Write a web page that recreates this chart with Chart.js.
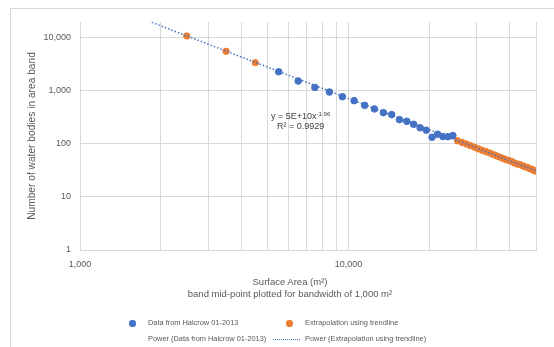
<!DOCTYPE html>
<html>
<head>
<meta charset="utf-8">
<script src="https://cdn.jsdelivr.net/npm/chart.js@4.4.1/dist/chart.umd.min.js"></script>
<style>
    html, body { margin: 0; padding: 0; background: #fff; }
    #wrap { position: relative; width: 554px; height: 347px; overflow: hidden; font-family: 'Liberation Sans', Arial, sans-serif; }
    #frame { position: absolute; left: 10px; top: 8px; width: 560px; height: 360px; border: 1px solid #d9d9d9; box-sizing: border-box; }
    #chartBox { position: absolute; left: 0; top: 0; width: 554px; height: 347px; }
    .txt { position: absolute; color: #595959; white-space: nowrap; }
    #eq { left: 271px; top: 111px; font-size: 9px; color: #404040; text-align: center; line-height: 10px; }
    #eq sup { font-size: 6px; vertical-align: 3px; line-height: 0; }
    #xt1 { left: 0; width: 580px; top: 276px; text-align: center; font-size: 9.5px; }
    #xt2 { left: 0; width: 580px; top: 288px; text-align: center; font-size: 9.5px; }
    .leg { font-size: 7.4px; }
    .dot { position: absolute; width: 6.5px; height: 6.5px; border-radius: 50%; }
    .dash { position: absolute; width: 27px; height: 0; border-top: 1.5px dotted #4472c4; }
</style>
</head>
<body>
<div id="wrap">
    <div id="frame"></div>
    <div id="chartBox"><canvas id="waterChart" width="554" height="347"></canvas></div>
    <div class="txt" id="eq">y = 5E+10x<sup>-1.96</sup><br>R² = 0.9929</div>
    <div class="txt" id="xt1">Surface Area (m²)</div>
    <div class="txt" id="xt2">band mid-point plotted for bandwidth of 1,000 m²</div>
    <div class="dot" style="left:129px; top:320px; background:#4472c4"></div>
    <div class="txt leg" style="left:148px; top:318px">Data from Halcrow 01-2013</div>
    <div class="dot" style="left:286px; top:320px; background:#ed7d31"></div>
    <div class="txt leg" style="left:305px; top:318px">Extrapolation using trendline</div>
    <div class="txt leg" style="left:148px; top:334px">Power (Data from Halcrow 01-2013)</div>
    <div class="dash" style="left:273px; top:339px"></div>
    <div class="txt leg" style="left:305px; top:334px">Power (Extrapolation using trendline)</div>
</div>
<script>
    // band mid-points (m2) and counts
    var halcrowArea = [5500, 6500, 7500, 8500, 9500, 10500, 11500, 12500, 13500, 14500,
        15500, 16500, 17500, 18500, 19500, 20500, 21500, 22500, 23500, 24500];
    var halcrowCount = [2300, 1540, 1166, 955, 780, 656, 535, 458, 390, 358,
        288, 268, 235, 202, 182, 134, 153, 138, 137, 144];

    var extrapArea = [2500, 3500, 4500,
        25500, 26500, 27500, 28500, 29500, 30500, 31500, 32500, 33500, 34500,
        35500, 36500, 37500, 38500, 39500, 40500, 41500, 42500, 43500, 44500,
        45500, 46500, 47500, 48500, 49500];
    var extrapCount = [10900, 5600, 3420,
        115, 107, 100, 93, 87, 81, 76, 72, 68, 64,
        60, 57, 54, 51, 49, 47, 44, 42, 41, 39,
        37, 36, 34, 33, 31];

    // ends of the dotted power trendline
    var trendArea = [1800, 50000];
    var trendCount = [20800, 31];

    var xTickValues = [1000, 2000, 3000, 4000, 5000, 6000, 7000, 8000, 9000,
        10000, 20000, 30000, 40000, 50000];
    var xLabelled = [1000, 10000];
    var yTickValues = [1, 10, 100, 1000, 10000];

    function toPoints(xs, ys) {
        var pts = [];
        for (let i = 0; i < xs.length; i++)
            pts.push({ x: xs[i], y: ys[i] });
        return pts;
    }

    var tickFont = { family: "'Liberation Sans', Arial, sans-serif", size: 9 };
    var gridColor = '#d9d9d9';

    new Chart(document.getElementById('waterChart'), {
        type: 'scatter',
        data: {
            datasets: [{
                label: 'Power (Extrapolation using trendline)',
                data: toPoints(trendArea, trendCount),
                showLine: true,
                borderColor: '#4472c4',
                borderWidth: 1.5,
                borderDash: [1.5, 2],
                pointRadius: 0
            }, {
                label: 'Data from Halcrow 01-2013',
                data: toPoints(halcrowArea, halcrowCount),
                backgroundColor: '#4472c4',
                borderColor: '#4472c4',
                pointRadius: 3.3
            }, {
                label: 'Extrapolation using trendline',
                data: toPoints(extrapArea, extrapCount),
                backgroundColor: '#ed7d31',
                borderColor: '#ed7d31',
                pointRadius: 3.2
            }]
        },
        options: {
            responsive: false,
            animation: false,
            layout: { padding: { left: 10, top: 22, right: 18, bottom: 47 } },
            plugins: { legend: { display: false }, tooltip: { enabled: false } },
            scales: {
                x: {
                    type: 'logarithmic',
                    min: 1000,
                    max: 50000,
                    afterBuildTicks: function (scale) {
                        scale.ticks = xTickValues.map(function (v) { return { value: v }; });
                    },
                    afterFit: function (scale) { scale.height = 50; },
                    ticks: {
                        autoSkip: false,
                        maxRotation: 0,
                        padding: 9,
                        color: '#595959',
                        font: tickFont,
                        callback: function (v) {
                            return xLabelled.indexOf(v) >= 0 ? v.toLocaleString('en-US') : '';
                        }
                    },
                    grid: { color: gridColor, drawTicks: false },
                    border: { color: gridColor }
                },
                y: {
                    type: 'logarithmic',
                    min: 1,
                    max: 20000,
                    afterBuildTicks: function (scale) {
                        scale.ticks = yTickValues.map(function (v) { return { value: v }; });
                    },
                    afterFit: function (scale) { scale.width = 70; },
                    ticks: {
                        padding: 9,
                        color: '#595959',
                        font: tickFont,
                        callback: function (v) { return v.toLocaleString('en-US'); }
                    },
                    grid: { color: gridColor, drawTicks: false },
                    border: { display: false },
                    title: {
                        display: true,
                        text: 'Number of water bodies in area band',
                        color: '#595959',
                        font: { family: "'Liberation Sans', Arial, sans-serif", size: 10.2 },
                        padding: { top: 16, bottom: 0 }
                    }
                }
            }
        }
    });
</script>
</body>
</html>
